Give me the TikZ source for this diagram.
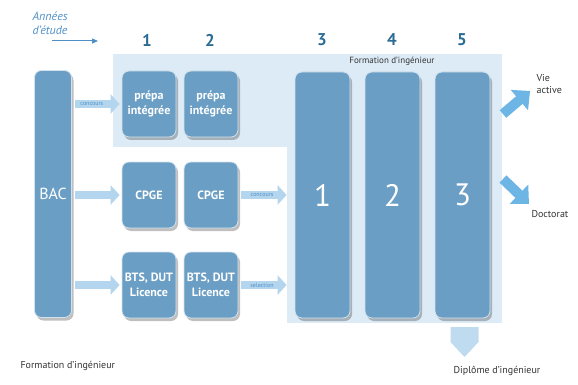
\documentclass[tikz,border=0pt]{standalone}
\usepackage{fontspec}
\setmainfont{PT Sans}
\usetikzlibrary{arrows.meta,shadows}
\definecolor{boxblue}{HTML}{6A9EC4}
\definecolor{panelblue}{HTML}{DDEBF6}
\definecolor{palearrow}{HTML}{B3D5EE}
\definecolor{brightarrow}{HTML}{6DB5E4}
\definecolor{numblue}{HTML}{2B6C95}
\definecolor{anneeblue}{HTML}{4E8FC5}
\definecolor{textgray}{HTML}{333333}
\tikzset{
  box/.style={draw=white!70!boxblue, line width=0.8pt, fill=boxblue, rounded corners=7pt,
    text=white, align=center, inner sep=0pt,
    drop shadow={shadow xshift=2pt, shadow yshift=-3pt, opacity=0.25, fill=black}},
  smallbox/.style={box, minimum width=54pt, minimum height=66pt,
    font=\fontsize{12}{15}\selectfont\bfseries},
  bigbox/.style={box, minimum width=55pt, minimum height=246pt,
    text depth=0pt, font=\fontsize{31}{31}\selectfont},
  yearnum/.style={text=numblue, font=\fontsize{17}{17}\selectfont\bfseries},
  plain/.style={text=textgray, align=left, font=\fontsize{10}{12.5}\selectfont},
  blockarrow/.style={palearrow, line width=8pt, -{Triangle[length=9pt,width=19pt]},
    shorten <=3pt, shorten >=2pt},
  outarrow/.style={brightarrow, line width=10pt, -{Triangle[length=14pt,width=26pt]}},
  arrowlbl/.style={text=anneeblue, inner sep=0pt, font=\fontsize{6}{6}\selectfont}
}
\begin{document}
\begin{tikzpicture}[x=1pt,y=-1pt]
  \useasboundingbox (0,0) rectangle (578,385);
  % fond
  \fill[panelblue] (113,54) rectangle (290,147);
  \fill[panelblue] (287,54) rectangle (502,323);
  \node[text=textgray, font=\fontsize{9}{10}\selectfont] (ftitle) at (392,61) {Formation d'ingénieur};
  % annees
  \node[anchor=west, text=anneeblue, align=left, font=\fontsize{12}{14}\selectfont\itshape] (annees) at (29,23) {Années\\d'étude};
  \coordinate (aS) at (52,41); \coordinate (aE) at (98,41);
  \draw[anneeblue, line width=1pt, -{Triangle[length=6pt,width=5pt]}] (aS) -- (aE);
  \foreach \n/\x in {1/147,2/210,3/322,4/392,5/462}
    \node[yearnum] (y\n) at (\x,40) {\n};
  % boites
  \node[box, minimum width=37pt, minimum height=247pt, font=\fontsize{16}{16}\selectfont] (bac) at (53,194) {BAC};
  \node[smallbox] (pi1) at (149,104) {prépa\\intégrée};
  \node[smallbox] (pi2) at (211,104) {prépa\\intégrée};
  \node[smallbox] (cp1) at (149,195) {CPGE};
  \node[smallbox] (cp2) at (211,195) {CPGE};
  \node[smallbox] (bt1) at (149,285) {BTS, DUT\\Licence};
  \node[smallbox] (bt2) at (211,285) {BTS, DUT\\Licence};
  \node[bigbox] (f1) at (322.5,195) {1};
  \node[bigbox] (f2) at (392.5,195) {2};
  \node[bigbox] (f3) at (462.5,195) {3};
  % fleches
  \draw[blockarrow] (bac.east |- pi1.west) -- node[arrowlbl, pos=0.4] {concours} (pi1.west);
  \draw[blockarrow] (bac.east |- cp1.west) -- (cp1.west);
  \draw[blockarrow] (bac.east |- bt1.west) -- (bt1.west);
  \draw[blockarrow, shorten >=8pt] (cp2.east) -- node[arrowlbl, pos=0.42] {concours} (f1.west |- cp2.east);
  \draw[blockarrow, shorten >=8pt] (bt2.east) -- node[arrowlbl, pos=0.42] {selection} (f1.west |- bt2.east);
  % sorties
  \node[plain, anchor=west] (vie) at (533,84) {Vie\\active};
  \node[plain, anchor=west] (doc) at (528,214) {Doctorat};
  \coordinate (vaS) at (503,114); \coordinate (dcS) at (503,179);
  \draw[outarrow] (vaS) -- ([shift={(-3pt,-7pt)}]vie.west);
  \draw[outarrow] (dcS) -- ([shift={(1pt,10pt)}]doc.west);
  \node[plain] (dip) at (497,371) {Diplôme d'ingénieur};
  \fill[palearrow!85] (450.5,327) -- (478.5,327) -- (478.5,342) -- (464.5,357) -- (450.5,342) -- cycle;
  \node[plain, anchor=west] (legende) at (17,366) {Formation d'ingénieur};
\end{tikzpicture}
\end{document}
